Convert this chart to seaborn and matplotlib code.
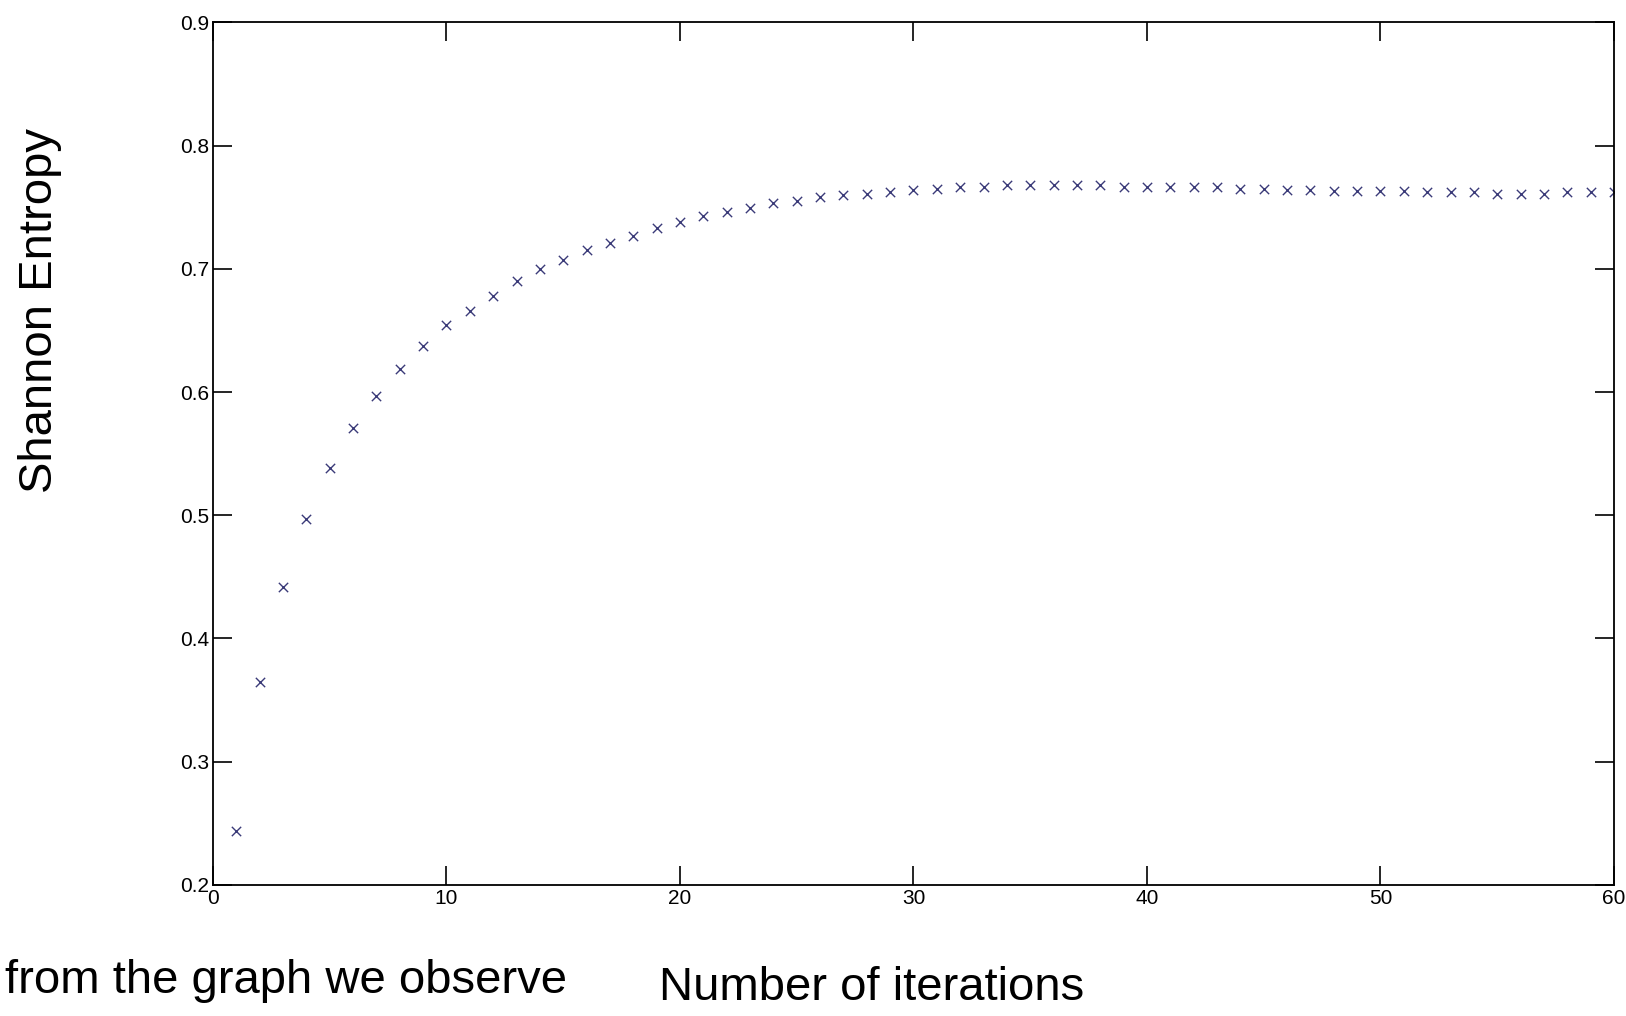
import numpy as np
import pandas as pd
import seaborn as sns
import matplotlib.pyplot as plt

# iteration counts and measured entropy
iterations = list(range(1, 61))
entropy = [0.244, 0.365, 0.442, 0.497, 0.538, 0.571, 0.597, 0.619, 0.637, 0.654,
           0.666, 0.678, 0.690, 0.700, 0.707, 0.715, 0.721, 0.727, 0.733, 0.738,
           0.743, 0.746, 0.749, 0.753, 0.755, 0.758, 0.760, 0.761, 0.762, 0.764,
           0.765, 0.766, 0.766, 0.768, 0.768, 0.768, 0.768, 0.768, 0.766, 0.766,
           0.766, 0.766, 0.766, 0.765, 0.765, 0.764, 0.764, 0.763, 0.763, 0.763,
           0.763, 0.762, 0.762, 0.762, 0.761, 0.761, 0.761, 0.762, 0.762, 0.762]
x_ticks = [0, 10, 20, 30, 40, 50, 60]
y_ticks = [0.2, 0.3, 0.4, 0.5, 0.6, 0.7, 0.8, 0.9]

df = pd.DataFrame({"iteration": iterations, "entropy": entropy})

sns.set_style("ticks")
plt.rcParams['font.family'] = ['Liberation Sans', 'DejaVu Sans']
plt.rcParams['text.color'] = 'black'

fig = plt.figure(figsize=(16.26, 10.16), dpi=100)
ax = fig.add_axes([0.131, 0.129, 0.8616, 0.849])

sns.scatterplot(data=df, x="iteration", y="entropy", marker="x", s=45,
                color="#3a3a78", linewidth=1.0, ax=ax)

ax.set_xlim(0, 60)
ax.set_ylim(0.2, 0.9)
ax.set_xticks(x_ticks)
ax.set_yticks(y_ticks)
ax.set_xticklabels([str(t) for t in x_ticks])
ax.set_yticklabels([f"{t:.1f}" for t in y_ticks])
ax.set_xlabel("")
ax.set_ylabel("")

tick_font = ['Liberation Sans Narrow', 'Liberation Sans']
for lab in ax.get_xticklabels() + ax.get_yticklabels():
    lab.set_family(tick_font)
    lab.set_fontsize(15)
    lab.set_color("black")

ax.tick_params(direction="in", length=14, width=1.2, top=True, right=True,
               pad=3, colors="black")
for side in ["top", "bottom", "left", "right"]:
    ax.spines[side].set_visible(True)
    ax.spines[side].set_linewidth(1.3)
    ax.spines[side].set_color("black")

fig.text(0.0245, 0.694, "Shannon Entropy", rotation=90, fontsize=34,
         ha="center", va="center", color="black")
fig.text(0.536, 0.006, "Number of iterations", fontsize=34,
         ha="center", va="bottom", color="black")
fig.text(0.003, 0.034, "from the graph we observe", fontsize=34,
         ha="left", va="center", color="black")

plt.savefig("out.png", dpi=100)
